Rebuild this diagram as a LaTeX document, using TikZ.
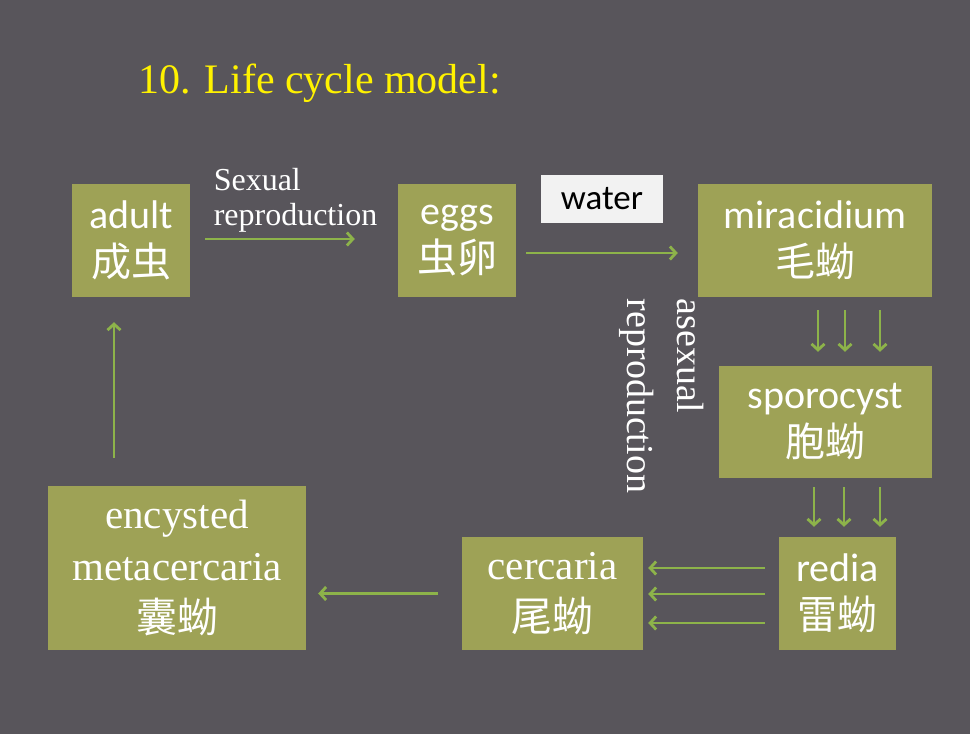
\documentclass[tikz,border=0pt]{standalone}
\usepackage{fontspec}
\usepackage{xcolor}
\setmainfont{Liberation Serif}
\newfontfamily\calfont{Carlito}
\newfontfamily\cjk{Noto Sans CJK SC}
\usetikzlibrary{arrows.meta}
\definecolor{slidebg}{HTML}{58555B}
\definecolor{boxolive}{HTML}{9EA256}
\definecolor{leaf}{HTML}{8DB34A}
\definecolor{waterbg}{HTML}{F2F2F2}
\tikzset{
  stage/.style={fill=boxolive, text=white, inner sep=0pt, align=center, font=\calfont\fontsize{40}{48}\selectfont},
  serifstage/.style={stage, font=\fontsize{41}{52}\selectfont},
  arr/.style={draw=leaf, line width=2.8pt, -{Straight Barb[length=6pt,width=13pt]}},
}

\begin{document}
\begin{tikzpicture}[x=1pt,y=-1pt]
\fill[slidebg] (0,0) rectangle (970,734);
\node[text=yellow, font=\fontsize{42}{50}\selectfont, anchor=base west, inner sep=0pt] (title) at (138,93) {10. Life cycle model:};
\node[stage, minimum width=118pt, minimum height=113pt] (adult) at (131,240.5) {adult\\{\cjk 成虫}};
\node[stage, minimum width=118pt, minimum height=113pt] (eggs) at (457,240.5) {eggs\\{\cjk 虫卵}};
\node[stage, minimum width=234pt, minimum height=113pt] (miracidium) at (815,240.5) {miracidium\\{\cjk 毛蚴}};
\node[stage, minimum width=213pt, minimum height=112pt] (sporocyst) at (825.5,422) {sporocyst\\{\cjk 胞蚴}};
\node[stage, minimum width=117pt, minimum height=113pt] (redia) at (837.5,593.5) {redia\\{\cjk 雷蚴}};
\node[serifstage, minimum width=181pt, minimum height=113pt] (cercaria) at (552.5,593.5) {cercaria\\{\cjk 尾蚴}};
\node[serifstage, minimum width=258pt, minimum height=164pt] (encysted) at (177,568) {encysted\\metacercaria\\{\cjk 囊蚴}};
\node[fill=waterbg, text=black, inner sep=0pt, font=\calfont\fontsize{35}{40}\selectfont, minimum width=122pt, minimum height=48pt] (water) at (602,199) {water};
\node[text=white, align=left, inner sep=0pt, font=\fontsize{32}{35}\selectfont] (sexlabel) at (295.5,200) {Sexual\\reproduction};
\node[text=white, align=left, inner sep=0pt, rotate=-90, font=\fontsize{38}{50}\selectfont] (asexlabel) at (662,396) {asexual\\reproduction};
\draw[arr, shorten <=15pt, shorten >=43pt] (adult.east |- 0,239) -- (eggs.west |- 0,239);
\draw[arr, shorten <=10pt, shorten >=20pt] (eggs.east |- 0,253) -- (miracidium.west |- 0,253);
\foreach \x in {818,845,880}
  \draw[arr, shorten <=13pt, shorten >=14pt] (miracidium.south -| \x,0) -- (sporocyst.north -| \x,0);
\foreach \x in {814,844,880}
  \draw[arr, shorten <=9pt, shorten >=10pt] (sporocyst.south -| \x,0) -- (redia.north -| \x,0);
\foreach \y in {568,594,623}
  \draw[arr, shorten <=14pt, shorten >=5pt] (redia.west |- 0,\y) -- (cercaria.east |- 0,\y);
\draw[arr, shorten <=24pt, shorten >=12pt] (cercaria.west) -- (encysted.east |- cercaria.west);
\draw[arr, shorten <=28pt, shorten >=25pt] (encysted.north -| 114,0) -- (adult.south -| 114,0);
\end{tikzpicture}
\end{document}
